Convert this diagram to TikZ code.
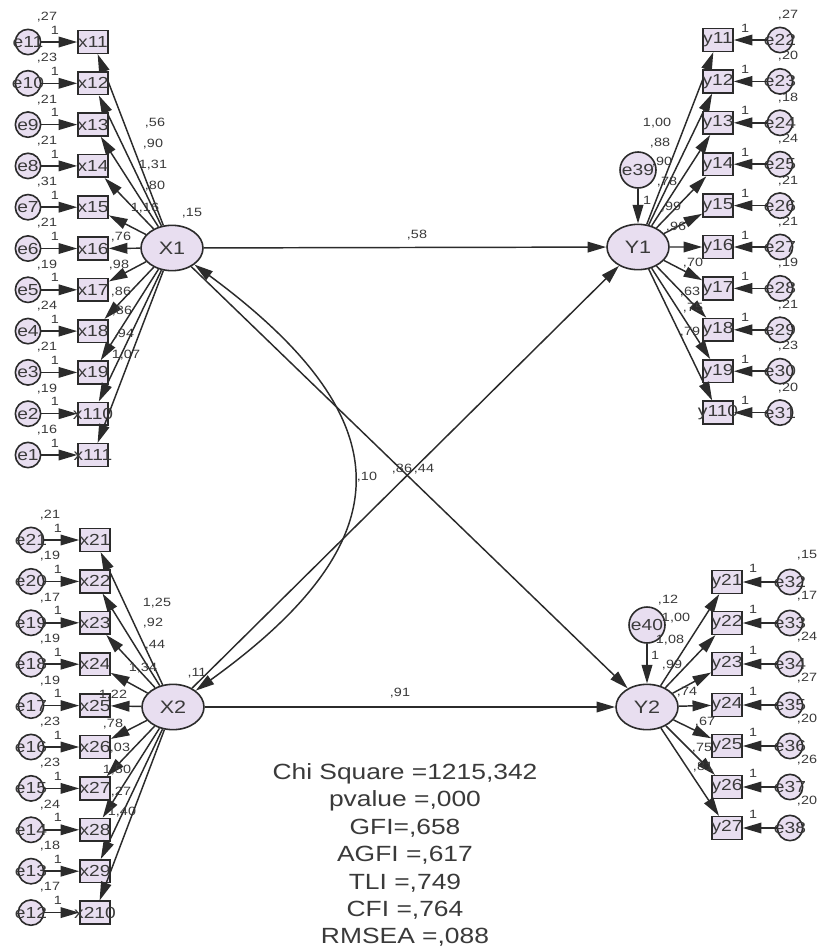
\documentclass[tikz,border=0pt]{standalone}
\usepackage{fontspec}
\setmainfont{Liberation Sans}[FakeStretch=1.2]
\usepackage{tikz}
\usetikzlibrary{arrows.meta,shapes.geometric}
\definecolor{lav}{HTML}{E8DEF0}
\definecolor{ink}{HTML}{2B2B2B}
\definecolor{txt}{HTML}{3A3A3A}

\tikzset{
  ind/.style={draw=ink,fill=lav,line width=1.2pt,minimum width=22.5pt,minimum height=17pt,
    inner sep=0pt,font=\fontsize{12}{12}\selectfont,text=txt},
  err/.style={circle,draw=ink,fill=lav,line width=1.2pt,minimum size=19pt,inner sep=0pt,
    font=\fontsize{12}{12}\selectfont,text=txt},
  dist/.style={circle,draw=ink,fill=lav,line width=1.2pt,minimum size=27pt,inner sep=0pt,
    font=\fontsize{12}{12}\selectfont,text=txt},
  lat/.style={ellipse,draw=ink,fill=lav,line width=1.2pt,minimum width=46.5pt,minimum height=34pt,
    inner sep=0pt,font=\fontsize{13.5}{13.5}\selectfont,text=txt},
  num/.style={font=\fontsize{9}{9}\selectfont,text=txt,inner sep=0pt},
  arr/.style={-{Triangle[length=14pt,width=8pt]},ink,line width=1.1pt},
  cov/.style={{Triangle[length=14pt,width=8pt]}-{Triangle[length=14pt,width=8pt]},ink,line width=1.1pt},
}

\begin{document}
\begin{tikzpicture}[x=0.75pt,y=-0.75pt]
  \useasboundingbox (0,0) rectangle (819,950);
  \fill[white] (0,0) rectangle (819,950);

  % latent variables
  \node[lat] (X1) at (172,248) {X1};
  \node[lat] (X2) at (173,707) {X2};
  \node[lat] (Y1) at (638,247) {Y1};
  \node[lat] (Y2) at (647,707) {Y2};
  \node[num] (vX1) at (192,213) {,15};
  \node[num] (vX2) at (197,673) {,11};

  % disturbances
  \node[dist] (e39) at (638,170) {\makebox[0pt]{e39}};
  \node[dist] (e40) at (647,625) {\makebox[0pt]{e40}};
  \draw[arr] (e39) -- (Y1);
  \draw[arr] (e40) -- (Y2);
  \node[num] (oe39) at (647,200) {1};
  \node[num] (oe40) at (655,655) {1};
  \node[num] (ve40) at (668,600) {,12};

  % X1 indicators
  \foreach \i/\bx/\er/\va/\ld/\lx/\ly in {
      0/x11/e11/{,27}/{,56}/155/123, 1/x12/e10/{,23}/{,90}/153/144,
      2/x13/e9/{,21}/{1,31}/153/165, 3/x14/e8/{,21}/{,80}/155/186,
      4/x15/e7/{,31}/{1,16}/145/208, 5/x16/e6/{,21}/{,76}/121/237,
      6/x17/e5/{,19}/{,98}/119/265, 7/x18/e4/{,24}/{,86}/121/292,
      8/x19/e3/{,21}/{,86}/122/311, 9/x110/e2/{,19}/{,94}/124/334,
      10/x111/e1/{,16}/{1,07}/126/355} {
    \node[ind] (\bx) at (93,{42+41.3*\i}) {\makebox[0pt]{\bx}};
    \node[err] (\er) at (28,{42+41.3*\i}) {\makebox[0pt]{\er}};
    \node[num] (v\er) at (47,{17+41.3*\i}) {\va};
    \node[num] (o\er) at (55,{30+41.3*\i}) {1};
    \node[num] (l\bx) at (\lx,\ly) {\ld};
    \draw[arr] (\er) -- (\bx);
    \draw[arr] (X1) -- (\bx);
  }

  % X2 indicators
  \foreach \i/\bx/\er/\va/\ld/\lx/\ly in {
      0/x21/e21/{,21}/{1,25}/157/603, 1/x22/e20/{,19}/{,92}/153/623,
      2/x23/e19/{,17}/{,44}/155/645, 3/x24/e18/{,19}/{1,34}/143/668,
      4/x25/e17/{,19}/{1,22}/113/695, 5/x26/e16/{,23}/{,78}/113/724,
      6/x27/e15/{,23}/{,03}/120/748, 7/x28/e14/{,24}/{1,50}/117/770,
      8/x29/e13/{,18}/{,27}/121/792, 9/x210/e12/{,17}/{1,40}/122/812} {
    \node[ind] (\bx) at (95,{540+41.4*\i}) {\makebox[0pt]{\bx}};
    \node[err] (\er) at (31,{540+41.4*\i}) {\makebox[0pt]{\er}};
    \node[num] (v\er) at (50,{515+41.4*\i}) {\va};
    \node[num] (o\er) at (58,{528+41.4*\i}) {1};
    \node[num] (l\bx) at (\lx,\ly) {\ld};
    \draw[arr] (\er) -- (\bx);
    \draw[arr] (X2) -- (\bx);
  }

  % Y1 indicators
  \foreach \i/\bx/\er/\va/\ld/\lx/\ly in {
      0/y11/e22/{,27}/{1,00}/657/123, 1/y12/e23/{,20}/{,88}/660/143,
      2/y13/e24/{,18}/{,90}/662/162, 3/y14/e25/{,24}/{,78}/667/182,
      4/y15/e26/{,21}/{,99}/671/207, 5/y16/e27/{,21}/{,96}/676/227,
      6/y17/e28/{,19}/{,70}/693/263, 7/y18/e29/{,21}/{,63}/690/292,
      8/y19/e30/{,23}/{,75}/693/308, 9/y110/e31/{,20}/{,79}/690/332} {
    \node[ind] (\bx) at (718,{40+41.4*\i}) {\makebox[0pt]{\bx}};
    \node[err] (\er) at (780,{40+41.4*\i}) {\makebox[0pt]{\er}};
    \node[num] (v\er) at (788,{15+41.4*\i}) {\va};
    \node[num] (o\er) at (745,{28+41.4*\i}) {1};
    \node[num] (l\bx) at (\lx,\ly) {\ld};
    \draw[arr] (\er) -- (\bx);
    \draw[arr] (Y1) -- (\bx);
  }

  % Y2 indicators
  \foreach \i/\bx/\er/\va/\ld/\lx/\ly in {
      0/y21/e32/{,15}/{1,00}/676/618, 1/y22/e33/{,17}/{1,08}/670/640,
      2/y23/e34/{,24}/{,99}/672/665, 3/y24/e35/{,27}/{,74}/687/692,
      4/y25/e36/{,20}/{,67}/705/722, 5/y26/e37/{,26}/{,75}/702/748,
      6/y27/e38/{,20}/{,81}/703/767} {
    \node[ind] (\bx) at (727,{582+41*\i}) {\makebox[0pt]{\bx}};
    \node[err] (\er) at (790,{582+41*\i}) {\makebox[0pt]{\er}};
    \node[num] (v\er) at (807,{555+41*\i}) {\va};
    \node[num] (o\er) at (753,{568+41*\i}) {1};
    \node[num] (l\bx) at (\lx,\ly) {\ld};
    \draw[arr] (\er) -- (\bx);
    \draw[arr] (Y2) -- (\bx);
  }

  % structural paths
  \draw[arr] (X1) -- (Y1);
  \draw[arr] (X2) -- (Y2);
  \draw[arr] (X1) -- (Y2);
  \draw[arr] (X2) -- (Y1);
  \draw[cov] (X1) .. controls (405,420) and (405,540) .. (X2);
  \node[num] (b11) at (417,235) {,58};
  \node[num] (b22) at (400,693) {,91};
  \node[num] (b21) at (402,469) {,86};
  \node[num] (b12) at (424,469) {,44};
  \node[num] (cxx) at (367,477) {,10};

  % fit indices
  \node[align=center,font=\fontsize{16.5}{20.6}\selectfont,text=txt,inner sep=0pt] (fit) at (405,855)
    {Chi Square =1215,342\\pvalue =,000\\GFI=,658\\AGFI =,617\\TLI =,749\\CFI =,764\\RMSEA =,088};
\end{tikzpicture}
\end{document}
